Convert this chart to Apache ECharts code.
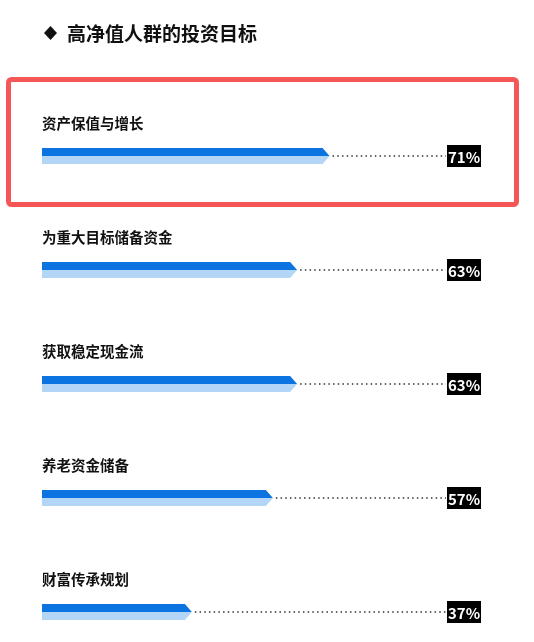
<!DOCTYPE html>
<html><head><meta charset="utf-8">
<script src="https://cdn.jsdelivr.net/npm/echarts@6/dist/echarts.min.js"></script>
<style>html,body{margin:0;padding:0;background:#fff}#c{width:534px;height:642px}</style>
</head><body><div id="c"></div>
<script>
const titleText = '高净值人群的投资目标';
const categories = ['资产保值与增长','为重大目标储备资金','获取稳定现金流','养老资金储备','财富传承规划'];
const values = [71, 63, 63, 57, 37];
const FONT = '"Noto Sans CJK SC","Noto Sans",sans-serif';

const chart = echarts.init(document.getElementById('c'));
chart.setOption({
  backgroundColor: '#fff',
  animation: false,
  graphic: [
    {type: 'polygon', shape: {points: [[50.5, 26], [57, 33], [50.5, 40], [44, 33]]}, style: {fill: '#111'}},
    {type: 'text', style: {text: titleText, x: 67, y: 34, verticalAlign: 'middle', fill: '#111', font: 'bold 19px ' + FONT}},
    {
      type: 'rect', shape: {x: 8.5, y: 79.5, width: 508, height: 125, r: 3},
      style: {fill: 'none', stroke: '#f55757', lineWidth: 5}, z: 10
    }
  ],
  grid: {left: 42, width: 405, top: 42, height: 570},
  xAxis: {type: 'value', min: 0, max: 100, show: false},
  yAxis: {type: 'value', min: -1, max: 4, inverse: true, show: false},
  series: [{
    type: 'custom',
    data: values.map((v, i) => [v, i]),
    encode: {x: 0, y: 1},
    clip: false,
    renderItem: function (params, api) {
      const idx = api.value(1);
      const val = api.value(0);
      const p0 = api.coord([0, idx]);
      const p1 = api.coord([val, idx]);
      const pm = api.coord([100, idx]);
      const x0 = p0[0], y = p0[1], x1 = p1[0], xm = pm[0];
      const h = 8, s = 7;
      return {
        type: 'group',
        children: [
          {type: 'polygon', shape: {points: [[x0, y - h], [x1 - s, y - h], [x1, y], [x0, y]]}, style: {fill: '#0b74e1'}},
          {type: 'polygon', shape: {points: [[x0, y], [x1, y], [x1 - s, y + h], [x0, y + h]]}, style: {fill: '#b4d6f6'}},
          {type: 'line', shape: {x1: x1 + 3, y1: y, x2: xm - 1, y2: y}, style: {stroke: '#333', lineWidth: 1.5, lineDash: [1.5, 3.2]}},
          {type: 'rect', shape: {x: xm, y: y - 11, width: 34, height: 22}, style: {fill: '#000'}},
          {type: 'text', style: {text: val + '%', x: xm + 17, y: y + 1, align: 'center', verticalAlign: 'middle', fill: '#fff', font: 'bold 15px ' + FONT}},
          {type: 'text', style: {text: categories[idx], x: x0, y: y - 33, align: 'left', verticalAlign: 'middle', fill: '#111', font: 'bold 14.5px ' + FONT}}
        ]
      };
    }
  }]
});
</script></body></html>
